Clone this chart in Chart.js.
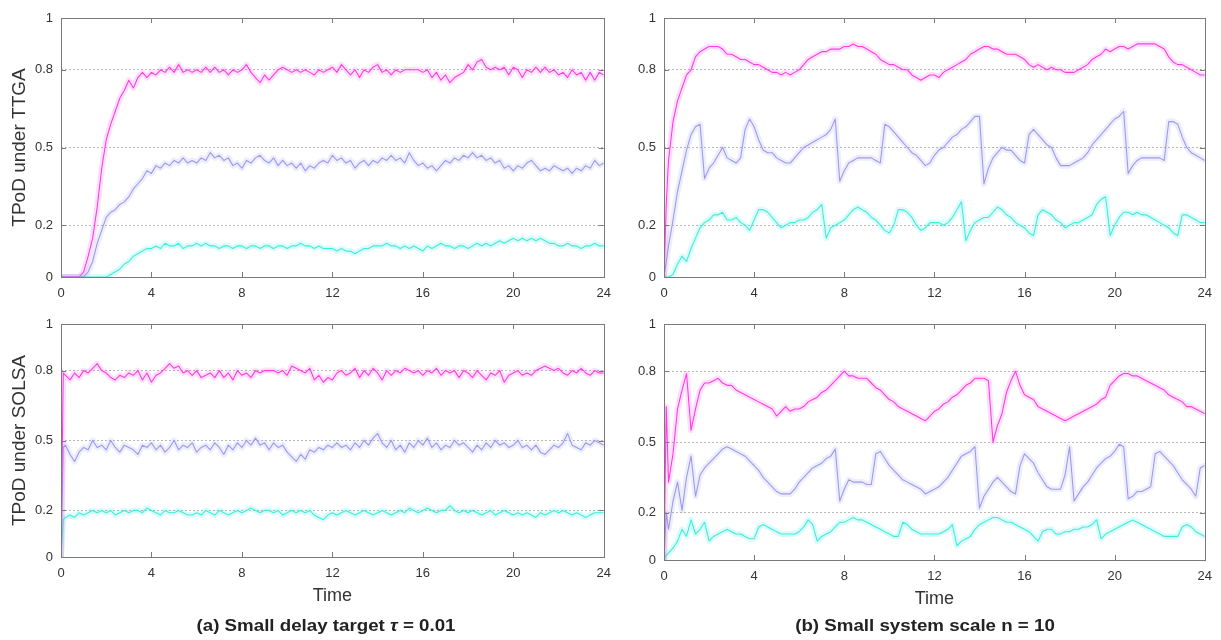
<!DOCTYPE html>
<html>
<head>
<meta charset="utf-8">
<script src="https://cdn.jsdelivr.net/npm/chart.js@4"></script>
<style>
  body { margin: 0; background: #fff; width: 1221px; height: 640px; position: relative; overflow: hidden; }
  canvas { position: absolute; }
  .caption { position: absolute; top: 617px; width: 400px; text-align: center; font: bold 16px "Liberation Sans", Arial, sans-serif; color: #222; transform: scaleX(1.17); }
</style>
</head>
<body>
<canvas id="tl" style="left:0;top:0" width="620" height="310"></canvas>
<canvas id="tr" style="left:600px;top:0" width="621" height="310"></canvas>
<canvas id="bl" style="left:0;top:300px" width="620" height="307"></canvas>
<canvas id="br" style="left:600px;top:300px" width="621" height="310"></canvas>
<div class="caption" style="left:126px">(a) Small delay target <i>τ</i> = 0.01</div>
<div class="caption" style="left:725px">(b) Small system scale n = 10</div>
<script>
// sample times: 0, 0.1, then every 0.2 up to 24
const time = [0, 0.1, ...Array.from({ length: 120 }, (_, i) => +(0.2 * (i + 1)).toFixed(1))];
const xTicks = [0, 4, 8, 12, 16, 20, 24];
const yTicks = [0, 0.2, 0.5, 0.8, 1];

// (a) small delay target, TTGA
const delayTtgaTop = [0,0,0,0,0,0,0.02,0.08,0.15,0.27,0.42,
  0.53,0.59,0.64,0.69,0.72,0.76,0.73,0.77,0.79,0.77,
  0.79,0.78,0.80,0.79,0.81,0.79,0.82,0.79,0.80,0.79,
  0.80,0.79,0.81,0.79,0.81,0.79,0.80,0.78,0.80,0.79,
  0.80,0.82,0.79,0.77,0.75,0.78,0.76,0.78,0.80,0.81,
  0.80,0.79,0.80,0.79,0.80,0.79,0.78,0.80,0.79,0.80,
  0.81,0.79,0.82,0.80,0.78,0.80,0.77,0.80,0.79,0.81,
  0.82,0.79,0.80,0.78,0.80,0.79,0.80,0.80,0.80,0.80,
  0.79,0.80,0.77,0.79,0.76,0.78,0.75,0.77,0.78,0.79,
  0.82,0.80,0.83,0.84,0.81,0.80,0.81,0.80,0.81,0.78,
  0.81,0.80,0.77,0.80,0.79,0.81,0.79,0.81,0.79,0.80,
  0.78,0.79,0.77,0.80,0.78,0.79,0.76,0.79,0.76,0.79,
  0.78];
const delayTtgaMid = [0,0,0,0,0,0,0,0.02,0.06,0.13,0.18,
  0.23,0.25,0.26,0.28,0.29,0.31,0.34,0.36,0.38,0.41,
  0.40,0.43,0.42,0.44,0.43,0.45,0.44,0.46,0.44,0.45,
  0.44,0.46,0.45,0.48,0.46,0.47,0.45,0.46,0.43,0.44,
  0.42,0.45,0.44,0.46,0.47,0.45,0.44,0.46,0.43,0.45,
  0.43,0.44,0.42,0.44,0.41,0.43,0.42,0.44,0.45,0.44,
  0.47,0.45,0.46,0.44,0.45,0.42,0.44,0.45,0.43,0.45,
  0.44,0.46,0.45,0.47,0.45,0.46,0.44,0.48,0.45,0.43,
  0.44,0.42,0.43,0.41,0.43,0.45,0.44,0.46,0.45,0.47,
  0.46,0.48,0.46,0.47,0.45,0.46,0.44,0.45,0.42,0.43,
  0.41,0.43,0.42,0.44,0.45,0.43,0.41,0.42,0.41,0.43,
  0.42,0.41,0.42,0.40,0.42,0.41,0.43,0.42,0.45,0.43,
  0.44];
const delayTtgaLow = [0,0,0,0,0,0,0,0,0,0,0,
  0,0.01,0.02,0.03,0.05,0.06,0.08,0.09,0.10,0.11,
  0.11,0.12,0.11,0.13,0.12,0.12,0.13,0.11,0.12,0.12,
  0.13,0.12,0.13,0.12,0.12,0.11,0.12,0.12,0.11,0.12,
  0.12,0.11,0.12,0.12,0.11,0.12,0.12,0.11,0.12,0.12,
  0.11,0.12,0.12,0.13,0.12,0.12,0.11,0.12,0.11,0.11,
  0.11,0.10,0.11,0.10,0.10,0.09,0.10,0.11,0.11,0.12,
  0.12,0.12,0.13,0.12,0.12,0.11,0.12,0.11,0.12,0.11,
  0.10,0.12,0.11,0.12,0.13,0.12,0.12,0.11,0.12,0.12,
  0.11,0.12,0.13,0.12,0.13,0.12,0.13,0.14,0.13,0.14,
  0.15,0.14,0.15,0.14,0.15,0.14,0.15,0.14,0.13,0.13,
  0.12,0.12,0.13,0.12,0.12,0.11,0.12,0.12,0.13,0.12,
  0.12];

// (b) small system scale, TTGA
const scaleTtgaTop = [0,0.28,0.45,0.60,0.68,0.73,0.78,0.80,0.85,0.87,0.88,
  0.89,0.89,0.89,0.88,0.86,0.86,0.85,0.84,0.84,0.83,
  0.82,0.82,0.81,0.80,0.79,0.79,0.78,0.79,0.78,0.79,
  0.80,0.82,0.84,0.85,0.86,0.87,0.87,0.88,0.88,0.88,
  0.89,0.89,0.90,0.89,0.89,0.88,0.87,0.86,0.84,0.83,
  0.82,0.82,0.81,0.80,0.80,0.78,0.77,0.76,0.77,0.78,
  0.78,0.77,0.79,0.80,0.81,0.82,0.83,0.84,0.86,0.87,
  0.88,0.89,0.89,0.88,0.88,0.87,0.86,0.86,0.86,0.85,
  0.84,0.82,0.81,0.82,0.81,0.80,0.81,0.80,0.80,0.79,
  0.79,0.79,0.80,0.81,0.82,0.84,0.85,0.86,0.88,0.87,
  0.88,0.89,0.89,0.88,0.89,0.90,0.90,0.90,0.90,0.90,
  0.89,0.88,0.85,0.83,0.82,0.82,0.81,0.80,0.79,0.78,
  0.78];
const scaleTtgaMid = [0,0.06,0.12,0.22,0.33,0.41,0.49,0.55,0.58,0.59,0.38,
  0.42,0.44,0.47,0.50,0.46,0.45,0.44,0.46,0.57,0.61,
  0.58,0.53,0.49,0.48,0.48,0.46,0.45,0.44,0.44,0.46,
  0.48,0.50,0.51,0.52,0.53,0.54,0.55,0.57,0.61,0.37,
  0.41,0.44,0.45,0.46,0.46,0.46,0.46,0.45,0.44,0.59,
  0.58,0.56,0.54,0.52,0.50,0.48,0.47,0.45,0.43,0.44,
  0.47,0.49,0.50,0.52,0.54,0.55,0.57,0.58,0.60,0.62,
  0.62,0.36,0.42,0.46,0.48,0.50,0.49,0.49,0.47,0.45,
  0.44,0.55,0.57,0.55,0.53,0.51,0.50,0.46,0.43,0.43,
  0.43,0.44,0.45,0.46,0.48,0.51,0.53,0.55,0.57,0.59,
  0.61,0.62,0.64,0.40,0.43,0.45,0.46,0.46,0.46,0.46,
  0.46,0.45,0.60,0.60,0.59,0.54,0.50,0.48,0.47,0.46,
  0.45];
const scaleTtgaLow = [0,0,0,0.01,0.05,0.08,0.06,0.11,0.15,0.19,0.21,
  0.22,0.24,0.24,0.25,0.22,0.22,0.23,0.21,0.20,0.18,
  0.22,0.26,0.26,0.25,0.23,0.21,0.19,0.20,0.21,0.21,
  0.22,0.22,0.23,0.25,0.26,0.28,0.15,0.19,0.20,0.21,
  0.22,0.24,0.26,0.27,0.26,0.25,0.23,0.22,0.20,0.18,
  0.17,0.20,0.26,0.26,0.25,0.23,0.20,0.18,0.19,0.21,
  0.21,0.21,0.20,0.21,0.23,0.26,0.29,0.14,0.18,0.21,
  0.22,0.23,0.23,0.25,0.27,0.26,0.24,0.23,0.21,0.20,
  0.19,0.17,0.16,0.24,0.26,0.25,0.24,0.22,0.21,0.19,
  0.20,0.21,0.21,0.22,0.23,0.24,0.28,0.30,0.31,0.16,
  0.20,0.23,0.25,0.25,0.24,0.25,0.24,0.24,0.23,0.22,
  0.21,0.20,0.19,0.17,0.16,0.24,0.24,0.23,0.22,0.21,
  0.21];

// (a) small delay target, SOLSA
const delaySolsaTop = [0,0.79,0.78,0.76,0.79,0.77,0.80,0.79,0.81,0.83,0.80,
  0.79,0.77,0.76,0.78,0.77,0.79,0.78,0.80,0.76,0.79,
  0.75,0.78,0.79,0.81,0.83,0.81,0.82,0.79,0.80,0.78,
  0.80,0.77,0.78,0.79,0.77,0.80,0.77,0.79,0.76,0.80,
  0.78,0.79,0.77,0.80,0.79,0.80,0.80,0.80,0.79,0.80,
  0.78,0.82,0.81,0.80,0.79,0.81,0.76,0.78,0.75,0.77,
  0.76,0.79,0.80,0.78,0.79,0.81,0.77,0.80,0.78,0.81,
  0.79,0.76,0.80,0.78,0.80,0.79,0.81,0.80,0.79,0.80,
  0.78,0.80,0.79,0.81,0.78,0.80,0.79,0.80,0.77,0.80,
  0.79,0.77,0.80,0.78,0.76,0.79,0.78,0.80,0.75,0.78,
  0.79,0.80,0.78,0.79,0.78,0.80,0.81,0.82,0.81,0.80,
  0.81,0.79,0.78,0.80,0.79,0.81,0.79,0.78,0.80,0.79,
  0.79];
const delaySolsaMid = [0,0.47,0.48,0.44,0.41,0.45,0.47,0.46,0.50,0.47,0.48,
  0.46,0.50,0.47,0.45,0.48,0.47,0.46,0.44,0.48,0.47,
  0.49,0.46,0.48,0.45,0.47,0.50,0.46,0.48,0.47,0.49,
  0.45,0.47,0.48,0.46,0.49,0.47,0.44,0.48,0.46,0.49,
  0.47,0.50,0.48,0.51,0.48,0.49,0.46,0.49,0.47,0.48,
  0.45,0.43,0.41,0.44,0.42,0.46,0.45,0.47,0.46,0.48,
  0.47,0.49,0.47,0.48,0.46,0.49,0.47,0.50,0.48,0.51,
  0.53,0.49,0.47,0.50,0.46,0.48,0.45,0.49,0.47,0.50,
  0.48,0.51,0.47,0.49,0.46,0.48,0.47,0.50,0.48,0.49,
  0.47,0.45,0.48,0.46,0.49,0.47,0.50,0.48,0.49,0.47,
  0.48,0.50,0.47,0.48,0.46,0.48,0.45,0.44,0.46,0.48,
  0.47,0.49,0.53,0.48,0.47,0.46,0.49,0.48,0.50,0.49,
  0.48];
const delaySolsaLow = [0,0.16,0.17,0.18,0.17,0.19,0.18,0.19,0.20,0.19,0.20,
  0.19,0.20,0.18,0.19,0.20,0.19,0.20,0.20,0.19,0.21,
  0.20,0.19,0.18,0.20,0.19,0.19,0.20,0.19,0.18,0.18,
  0.19,0.18,0.20,0.19,0.18,0.20,0.19,0.18,0.19,0.20,
  0.19,0.20,0.21,0.20,0.19,0.20,0.20,0.19,0.20,0.18,
  0.19,0.20,0.19,0.20,0.19,0.20,0.18,0.17,0.16,0.18,
  0.19,0.18,0.19,0.20,0.19,0.18,0.19,0.20,0.19,0.18,
  0.19,0.20,0.19,0.18,0.19,0.20,0.19,0.21,0.20,0.19,
  0.20,0.21,0.20,0.19,0.20,0.20,0.22,0.20,0.19,0.20,
  0.19,0.20,0.19,0.18,0.19,0.20,0.18,0.19,0.20,0.19,
  0.18,0.19,0.18,0.19,0.18,0.17,0.19,0.18,0.19,0.20,
  0.19,0.20,0.19,0.18,0.19,0.18,0.17,0.18,0.19,0.19,
  0.19];

// (b) small system scale, SOLSA
const scaleSolsaTop = [0,0.65,0.33,0.45,0.64,0.72,0.79,0.55,0.64,0.72,0.75,
  0.75,0.76,0.77,0.75,0.74,0.74,0.72,0.71,0.70,0.69,
  0.68,0.67,0.66,0.65,0.64,0.61,0.63,0.65,0.63,0.64,
  0.64,0.65,0.67,0.68,0.69,0.71,0.72,0.74,0.76,0.78,
  0.80,0.78,0.78,0.77,0.77,0.77,0.75,0.73,0.72,0.70,
  0.68,0.67,0.65,0.64,0.63,0.62,0.61,0.60,0.59,0.61,
  0.63,0.64,0.66,0.67,0.69,0.70,0.72,0.74,0.75,0.77,
  0.77,0.77,0.76,0.50,0.57,0.62,0.71,0.76,0.80,0.74,
  0.70,0.69,0.68,0.65,0.64,0.63,0.62,0.61,0.60,0.59,
  0.60,0.61,0.62,0.63,0.64,0.65,0.66,0.68,0.69,0.74,
  0.76,0.78,0.79,0.79,0.78,0.78,0.77,0.76,0.75,0.74,
  0.73,0.72,0.70,0.69,0.68,0.67,0.65,0.65,0.64,0.63,
  0.62];
const scaleSolsaMid = [0,0.20,0.13,0.25,0.33,0.21,0.35,0.44,0.27,0.36,0.39,
  0.41,0.43,0.45,0.47,0.48,0.47,0.46,0.45,0.44,0.42,
  0.40,0.38,0.35,0.33,0.31,0.29,0.28,0.28,0.28,0.30,
  0.33,0.35,0.37,0.39,0.40,0.41,0.43,0.44,0.47,0.25,
  0.30,0.34,0.33,0.33,0.33,0.32,0.32,0.45,0.46,0.43,
  0.40,0.38,0.36,0.34,0.33,0.32,0.31,0.30,0.28,0.29,
  0.30,0.31,0.33,0.35,0.38,0.41,0.44,0.45,0.46,0.48,
  0.22,0.27,0.30,0.33,0.35,0.33,0.31,0.29,0.28,0.40,
  0.45,0.43,0.41,0.37,0.34,0.31,0.30,0.30,0.30,0.36,
  0.48,0.25,0.28,0.31,0.33,0.36,0.39,0.41,0.43,0.44,
  0.46,0.49,0.48,0.26,0.27,0.29,0.29,0.30,0.31,0.45,
  0.46,0.44,0.42,0.40,0.37,0.34,0.32,0.30,0.27,0.39,
  0.40];
const scaleSolsaLow = [0,0.02,0.03,0.05,0.08,0.13,0.10,0.17,0.11,0.13,0.16,
  0.08,0.10,0.11,0.12,0.13,0.12,0.11,0.11,0.10,0.09,
  0.09,0.14,0.15,0.14,0.13,0.12,0.11,0.11,0.11,0.11,
  0.12,0.14,0.17,0.15,0.08,0.10,0.11,0.12,0.14,0.16,
  0.16,0.17,0.18,0.17,0.17,0.16,0.15,0.14,0.13,0.12,
  0.11,0.10,0.10,0.16,0.15,0.13,0.12,0.11,0.11,0.11,
  0.11,0.11,0.12,0.13,0.15,0.06,0.08,0.09,0.10,0.13,
  0.15,0.16,0.17,0.18,0.18,0.17,0.16,0.16,0.15,0.14,
  0.13,0.12,0.10,0.08,0.12,0.13,0.13,0.11,0.11,0.12,
  0.12,0.13,0.13,0.14,0.14,0.15,0.17,0.09,0.11,0.12,
  0.13,0.14,0.15,0.16,0.17,0.16,0.15,0.14,0.13,0.12,
  0.11,0.10,0.10,0.10,0.10,0.14,0.15,0.14,0.12,0.11,
  0.10];

const FONT = '"Liberation Sans", Arial, Helvetica, sans-serif';
const lineColors = ['#ff3ce6', '#9c9cf0', '#3eeedc'];
const haloColors = ['rgba(255,60,230,0.16)', 'rgba(150,150,240,0.17)', 'rgba(60,238,220,0.18)'];

// box round the plot area with short inward ticks
const framePlugin = {
  id: 'frame',
  afterDraw(chart) {
    const { ctx, chartArea: a, scales } = chart;
    ctx.save();
    ctx.strokeStyle = '#7a7a7a';
    ctx.lineWidth = 1;
    ctx.strokeRect(Math.round(a.left) + 0.5, Math.round(a.top) + 0.5, Math.round(a.right - a.left), Math.round(a.bottom - a.top));
    ctx.beginPath();
    xTicks.slice(1, -1).forEach(v => {
      const px = Math.round(scales.x.getPixelForValue(v)) + 0.5;
      ctx.moveTo(px, a.bottom); ctx.lineTo(px, a.bottom - 5);
      ctx.moveTo(px, a.top); ctx.lineTo(px, a.top + 5);
    });
    yTicks.slice(1, -1).forEach(v => {
      const py = Math.round(scales.y.getPixelForValue(v)) + 0.5;
      ctx.moveTo(a.left, py); ctx.lineTo(a.left + 5, py);
      ctx.moveTo(a.right, py); ctx.lineTo(a.right - 5, py);
    });
    ctx.stroke();
    ctx.restore();
  }
};

function makePanel(id, series, opts) {
  const halos = series.map((s, k) => ({
    data: s.map((v, i) => ({ x: time[i], y: v })),
    borderColor: haloColors[k],
    borderWidth: 6,
    borderJoinStyle: 'round',
    borderCapStyle: 'round',
    pointRadius: 0,
    tension: 0,
  }));
  const lines = series.map((s, k) => ({
    data: s.map((v, i) => ({ x: time[i], y: v })),
    borderColor: lineColors[k],
    borderWidth: 1.1,
    borderJoinStyle: 'round',
    pointRadius: 0,
    tension: 0,
  }));
  new Chart(document.getElementById(id), {
    type: 'line',
    data: { datasets: [...halos, ...lines] },
    plugins: [framePlugin],
    options: {
      responsive: false,
      animation: false,
      events: [],
      layout: { padding: { left: 0, top: opts.top, right: opts.right, bottom: 0 } },
      plugins: { legend: { display: false }, tooltip: { enabled: false } },
      scales: {
        x: {
          type: 'linear',
          min: 0,
          max: 24,
          afterBuildTicks: (scale) => { scale.ticks = xTicks.map(v => ({ value: v })); },
          afterFit: (scale) => { scale.height = opts.xHeight; },
          grid: { display: false, drawTicks: false },
          border: { display: false },
          ticks: { padding: 9, color: '#333', font: { family: FONT, size: 13 }, maxRotation: 0 },
          title: {
            display: !!opts.xTitle,
            text: opts.xTitle || '',
            color: '#333',
            font: { family: FONT, size: 18 },
            padding: { top: 0, bottom: 0 },
          },
        },
        y: {
          min: 0,
          max: 1,
          afterBuildTicks: (scale) => { scale.ticks = yTicks.map(v => ({ value: v })); },
          afterFit: (scale) => { scale.width = opts.yWidth; },
          grid: {
            drawTicks: false,
            lineWidth: 1,
            color: (c) => (c.tick && c.tick.value > 0 && c.tick.value < 1 ? '#b8b8b8' : 'rgba(0,0,0,0)'),
          },
          border: { display: false, dash: [2, 2] },
          ticks: { padding: 8, color: '#333', font: { family: FONT, size: 13 }, callback: (v) => String(v) },
          title: {
            display: !!opts.yTitle,
            text: opts.yTitle || '',
            color: '#333',
            font: { family: FONT, size: 19 },
            padding: { top: 8, bottom: 0 },
          },
        },
      },
    },
  });
}

makePanel('tl', [delayTtgaTop, delayTtgaMid, delayTtgaLow], { top: 18, right: 16, xHeight: 33, yWidth: 61, yTitle: 'TPoD under TTGA' });
makePanel('tr', [scaleTtgaTop, scaleTtgaMid, scaleTtgaLow], { top: 18, right: 14, xHeight: 33, yWidth: 64 });
makePanel('bl', [delaySolsaTop, delaySolsaMid, delaySolsaLow], { top: 24, right: 15, xHeight: 50, yWidth: 61, yTitle: 'TPoD under SOLSA', xTitle: 'Time' });
makePanel('br', [scaleSolsaTop, scaleSolsaMid, scaleSolsaLow], { top: 24, right: 15, xHeight: 50, yWidth: 64, xTitle: 'Time' });
</script>
</body>
</html>
